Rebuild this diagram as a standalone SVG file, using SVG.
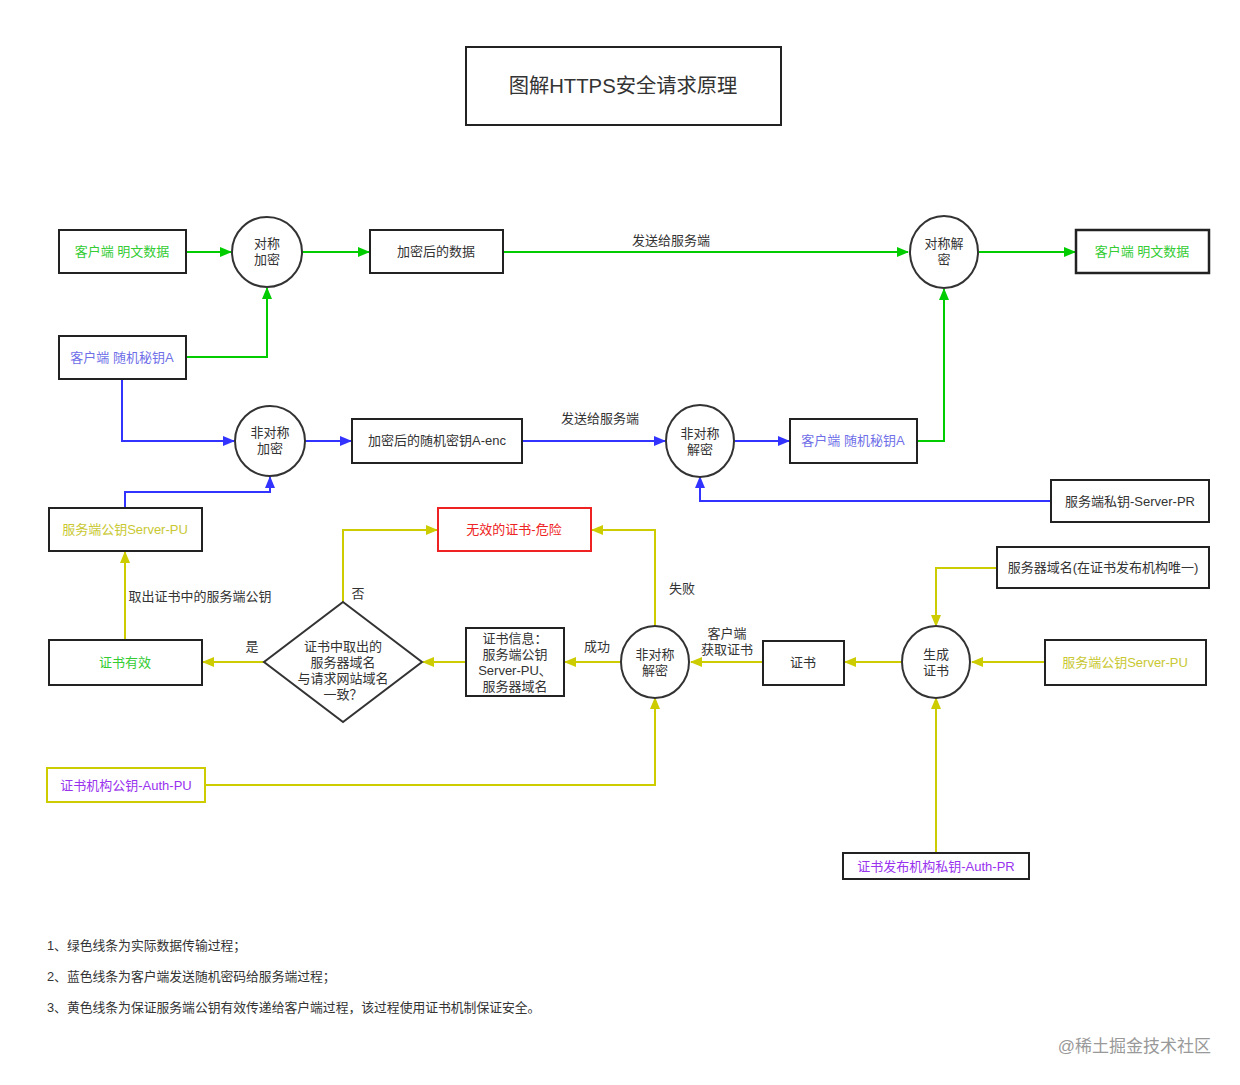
<svg xmlns="http://www.w3.org/2000/svg" width="1240" height="1085" viewBox="0 0 1240 1085">
<defs>
<marker id="ag" markerWidth="12" markerHeight="10" refX="11" refY="5" orient="auto" markerUnits="userSpaceOnUse"><path d="M0,0 L12,5 L0,10 Z" fill="#00cc00"/></marker>
<marker id="ab" markerWidth="12" markerHeight="10" refX="11" refY="5" orient="auto" markerUnits="userSpaceOnUse"><path d="M0,0 L12,5 L0,10 Z" fill="#3333ff"/></marker>
<marker id="ay" markerWidth="12" markerHeight="10" refX="11" refY="5" orient="auto" markerUnits="userSpaceOnUse"><path d="M0,0 L12,5 L0,10 Z" fill="#cccc00"/></marker>
</defs>
<style>
text{font-family:"Liberation Sans","Noto Sans CJK SC",sans-serif;font-size:13px;fill:#333;text-anchor:middle;dominant-baseline:central}
.box{fill:#fff;stroke:#222;stroke-width:2}
.circ{fill:#fff;stroke:#333;stroke-width:2}
.g{fill:none;stroke:#00cc00;stroke-width:2}
.b{fill:none;stroke:#3333ff;stroke-width:2}
.y{fill:none;stroke:#cccc00;stroke-width:2}
.tg{fill:#33cc33}
.tb{fill:#6f6fe8}
.ty{fill:#c8c832}
.tp{fill:#9933ee}
.tr{fill:#ee2222}
.lg{text-anchor:start;font-size:12.8px}
</style>
<rect width="1240" height="1085" fill="#fff"/>

<g id="title"><rect x="466" y="47" width="315" height="78" class="box"/><text x="623" y="86" style="font-size:20.3px">图解HTTPS安全请求原理</text></g>

<g id="connectors">
<path d="M186,252 H231" class="g" marker-end="url(#ag)"/>
<path d="M302,252 H369" class="g" marker-end="url(#ag)"/>
<path d="M503,252 H908" class="g" marker-end="url(#ag)"/>
<path d="M979,252 H1075" class="g" marker-end="url(#ag)"/>
<path d="M186,357 H267 V288" class="g" marker-end="url(#ag)"/>
<path d="M917,441 H944 V289" class="g" marker-end="url(#ag)"/>
<path d="M122,379 V441 H234" class="b" marker-end="url(#ab)"/>
<path d="M305,441 H351" class="b" marker-end="url(#ab)"/>
<path d="M522,441 H665" class="b" marker-end="url(#ab)"/>
<path d="M735,441 H789" class="b" marker-end="url(#ab)"/>
<path d="M1051,501 H700 V477" class="b" marker-end="url(#ab)"/>
<path d="M125,508 V492 H270 V477" class="b" marker-end="url(#ab)"/>
<path d="M343,602 V530 H437" class="y" marker-end="url(#ay)"/>
<path d="M264,662 H203" class="y" marker-end="url(#ay)"/>
<path d="M125,640 V552" class="y" marker-end="url(#ay)"/>
<path d="M466,662 H423" class="y" marker-end="url(#ay)"/>
<path d="M621,662 H565" class="y" marker-end="url(#ay)"/>
<path d="M655,627 V530 H592" class="y" marker-end="url(#ay)"/>
<path d="M763,662 H691" class="y" marker-end="url(#ay)"/>
<path d="M902,662 H845" class="y" marker-end="url(#ay)"/>
<path d="M997,568 H936 V626" class="y" marker-end="url(#ay)"/>
<path d="M1045,662 H972" class="y" marker-end="url(#ay)"/>
<path d="M205,785 H655 V698" class="y" marker-end="url(#ay)"/>
<path d="M936,853 V698" class="y" marker-end="url(#ay)"/>
<text x="671" y="240">发送给服务端</text>
<text x="600" y="418">发送给服务端</text>
<text x="358" y="593">否</text>
<text x="252" y="646">是</text>
<text x="200" y="596">取出证书中的服务端公钥</text>
<text x="597" y="646">成功</text>
<text x="682" y="588">失败</text>
<text x="727" y="633">客户端</text>
<text x="727" y="649">获取证书</text>
</g>

<g id="n-plain1"><rect x="59" y="230" width="127" height="43" class="box"/><text x="122" y="251" class="tg">客户端 明文数据</text></g>
<g id="n-symenc"><circle cx="267" cy="252" r="35" class="circ"/><text x="267" y="243">对称</text><text x="267" y="259">加密</text></g>
<g id="n-encdata"><rect x="370" y="230" width="133" height="43" class="box"/><text x="436" y="251">加密后的数据</text></g>
<g id="n-symdec"><ellipse cx="944" cy="252" rx="34" ry="36" class="circ"/><text x="944" y="243">对称解</text><text x="944" y="259">密</text></g>
<g id="n-plain2"><rect x="1076" y="230" width="133" height="43" class="box" style="stroke-width:2.5"/><text x="1142" y="251" class="tg">客户端 明文数据</text></g>
<g id="n-keyA1"><rect x="59" y="336" width="127" height="43" class="box"/><text x="122" y="357" class="tb">客户端 随机秘钥A</text></g>
<g id="n-asymenc"><circle cx="270" cy="441" r="35" class="circ"/><text x="270" y="432">非对称</text><text x="270" y="448">加密</text></g>
<g id="n-encA"><rect x="352" y="419" width="170" height="44" class="box"/><text x="437" y="440">加密后的随机密钥A-enc</text></g>
<g id="n-asymdec1"><ellipse cx="700" cy="441" rx="34" ry="36" class="circ"/><text x="700" y="433">非对称</text><text x="700" y="449">解密</text></g>
<g id="n-keyA2"><rect x="790" y="419" width="127" height="44" class="box"/><text x="853" y="440" class="tb">客户端 随机秘钥A</text></g>
<g id="n-serverPR"><rect x="1051" y="480" width="158" height="42" class="box"/><text x="1130" y="501">服务端私钥-Server-PR</text></g>
<g id="n-serverPU1"><rect x="49" y="508" width="153" height="43" class="box"/><text x="125" y="529" class="ty">服务端公钥Server-PU</text></g>
<g id="n-invalid"><rect x="438" y="508" width="153" height="43" class="box" style="stroke:#ee2222"/><text x="514" y="529" class="tr">无效的证书-危险</text></g>
<g id="n-domain"><rect x="997" y="547" width="212" height="41" class="box"/><text x="1103" y="567">服务器域名(在证书发布机构唯一)</text></g>
<g id="n-valid"><rect x="49" y="640" width="153" height="45" class="box"/><text x="125" y="662" class="tg">证书有效</text></g>
<g id="n-diamond"><path d="M343,602 L422,662 L343,722 L264,662 Z" class="circ"/><text x="343" y="646">证书中取出的</text><text x="343" y="662">服务器域名</text><text x="343" y="678">与请求网站域名</text><text x="343" y="694">一致？</text></g>
<g id="n-certinfo"><rect x="466" y="628" width="98" height="68" class="box"/><text x="515" y="638">证书信息：</text><text x="515" y="654">服务端公钥</text><text x="515" y="670">Server-PU、</text><text x="515" y="686">服务器域名</text></g>
<g id="n-asymdec2"><ellipse cx="655" cy="662" rx="34" ry="36" class="circ"/><text x="655" y="654">非对称</text><text x="655" y="670">解密</text></g>
<g id="n-cert"><rect x="763" y="641" width="81" height="44" class="box"/><text x="803" y="662">证书</text></g>
<g id="n-gencert"><ellipse cx="936" cy="662" rx="34" ry="36" class="circ"/><text x="936" y="654">生成</text><text x="936" y="670">证书</text></g>
<g id="n-serverPU2"><rect x="1045" y="640" width="161" height="45" class="box"/><text x="1125" y="662" class="ty">服务端公钥Server-PU</text></g>
<g id="n-authPU"><rect x="47" y="768" width="158" height="34" class="box" style="stroke:#cccc00"/><text x="126" y="785" class="tp">证书机构公钥-Auth-PU</text></g>
<g id="n-authPR"><rect x="843" y="853" width="186" height="26" class="box"/><text x="936" y="866" class="tp">证书发布机构私钥-Auth-PR</text></g>

<g id="legend">
<text x="47" y="945" class="lg">1、绿色线条为实际数据传输过程；</text>
<text x="47" y="976" class="lg">2、蓝色线条为客户端发送随机密码给服务端过程；</text>
<text x="47" y="1007" class="lg">3、黄色线条为保证服务端公钥有效传递给客户端过程，该过程使用证书机制保证安全。</text>
</g>
<text x="1211" y="1046" style="text-anchor:end;font-size:17px;fill:#999">@稀土掘金技术社区</text>
</svg>
